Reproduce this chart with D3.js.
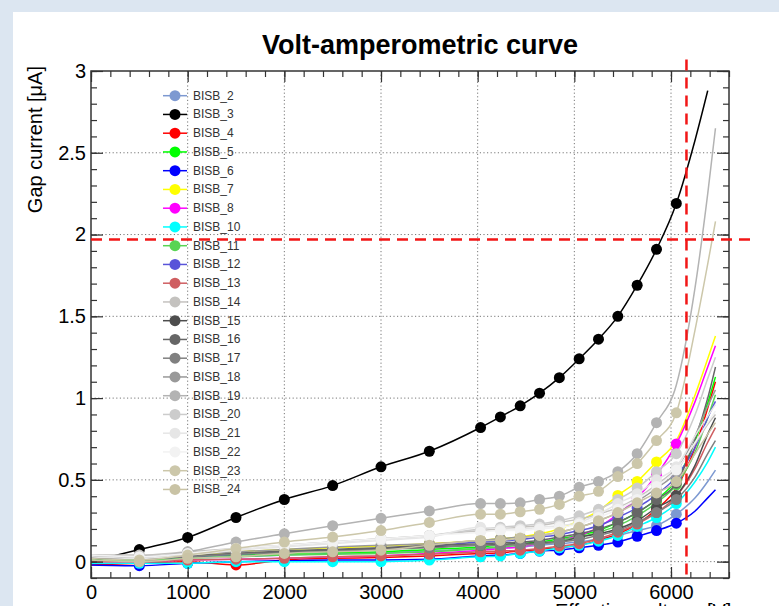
<!DOCTYPE html>
<html><head><meta charset="utf-8">
<script src="https://cdn.jsdelivr.net/npm/d3@7"></script>
<style>body{margin:0;background:#dce6f1;} svg{display:block;}</style>
</head><body><svg id="c" width="779" height="606"></svg>
<script>
// ---- data ----
const voltages = [0,500,1000,1500,2000,2500,3000,3500,4030,4235,4440,4640,4845,5050,5250,5450,5650,5850,6055,6250,6380,6460];
const seriesNames = ["BISB_2","BISB_3","BISB_4","BISB_5","BISB_6","BISB_7","BISB_8","BISB_10","BISB_11","BISB_12","BISB_13","BISB_14","BISB_15","BISB_16","BISB_17","BISB_18","BISB_19","BISB_20","BISB_21","BISB_22","BISB_23","BISB_24"];
const bisb2  = [0.02,0.01,0.02,0.03,0.04,0.05,0.055,0.065,0.08,0.085,0.09,0.1,0.11,0.12,0.14,0.16,0.19,0.22,0.29,0.39,0.49,0.56];
const bisb3  = [0.0,0.074,0.148,0.27,0.38,0.465,0.58,0.675,0.82,0.885,0.953,1.03,1.125,1.24,1.36,1.50,1.69,1.91,2.19,2.58,2.88,null];
const bisb4  = [-0.02,-0.01,0.0,-0.02,0.01,0.02,0.025,0.035,0.05,0.055,0.065,0.075,0.085,0.1,0.13,0.17,0.23,0.32,0.45,0.7,0.94,1.10];
const bisb5  = [0.02,0.02,0.03,0.04,0.05,0.055,0.06,0.075,0.09,0.1,0.11,0.12,0.14,0.16,0.19,0.24,0.3,0.38,0.5,0.74,0.97,1.13];
const bisb6  = [-0.02,-0.025,-0.01,0.0,0.005,0.01,0.01,0.015,0.035,0.04,0.05,0.065,0.07,0.085,0.1,0.12,0.155,0.19,0.235,0.31,0.39,0.44];
const bisb7  = [0.025,0.02,0.04,0.06,0.075,0.085,0.095,0.11,0.13,0.14,0.15,0.17,0.2,0.25,0.31,0.405,0.49,0.61,0.74,1.02,1.24,1.38];
const bisb8  = [0.0,0.0,0.01,0.015,0.02,0.03,0.035,0.05,0.07,0.08,0.09,0.11,0.13,0.16,0.21,0.29,0.39,0.53,0.72,0.98,1.19,1.32];
const bisb10 = [-0.01,-0.01,-0.01,0.0,0.0,0.0,0.0,0.01,0.03,0.035,0.05,0.065,0.085,0.1,0.125,0.16,0.215,0.27,0.355,0.49,0.61,0.70];
const bisb11 = [0.01,0.01,0.02,0.03,0.04,0.045,0.05,0.06,0.08,0.09,0.1,0.11,0.13,0.15,0.18,0.22,0.28,0.36,0.47,0.67,0.88,1.02];
const bisb12 = [0.02,0.02,0.03,0.045,0.06,0.07,0.08,0.095,0.12,0.125,0.135,0.15,0.165,0.19,0.22,0.27,0.33,0.41,0.52,0.7,0.88,0.98];
const bisb13 = [0.0,0.0,0.01,0.015,0.02,0.03,0.035,0.045,0.06,0.065,0.07,0.08,0.095,0.11,0.14,0.18,0.23,0.3,0.4,0.57,0.73,0.82];
const bisb14 = [0.04,0.04,0.06,0.08,0.1,0.12,0.14,0.16,0.19,0.2,0.21,0.22,0.24,0.26,0.29,0.33,0.39,0.47,0.57,0.72,0.84,0.90];
const bisb15 = [0.02,0.02,0.03,0.05,0.06,0.07,0.08,0.09,0.1,0.105,0.11,0.115,0.12,0.15,0.17,0.2,0.25,0.33,0.405,0.59,0.78,0.88];
const bisb16 = [0.02,0.02,0.035,0.05,0.065,0.075,0.085,0.1,0.11,0.115,0.12,0.13,0.15,0.17,0.2,0.24,0.3,0.38,0.48,0.75,1.0,1.19];
const bisb17 = [0.02,0.02,0.03,0.045,0.055,0.065,0.075,0.085,0.1,0.1,0.105,0.11,0.12,0.135,0.16,0.19,0.24,0.3,0.38,0.52,0.66,0.74];
const bisb18 = [0.03,0.03,0.045,0.06,0.075,0.09,0.1,0.11,0.13,0.14,0.15,0.16,0.18,0.21,0.25,0.3,0.37,0.45,0.55,0.77,0.95,1.05];
const bisb19 = [0.04,0.025,0.06,0.12,0.17,0.22,0.265,0.31,0.355,0.355,0.36,0.38,0.40,0.455,0.49,0.55,0.66,0.85,1.08,1.68,2.25,2.65];
const bisb20 = [0.04,0.03,0.05,0.08,0.1,0.12,0.14,0.16,0.2,0.21,0.22,0.23,0.25,0.28,0.32,0.38,0.45,0.55,0.66,0.9,1.12,1.25];
const bisb21 = [0.03,0.02,0.04,0.07,0.09,0.11,0.13,0.15,0.21,0.2,0.2,0.21,0.22,0.24,0.29,0.355,0.415,0.5,0.58,0.77,0.89,0.96];
const bisb22 = [0.04,0.03,0.05,0.08,0.1,0.12,0.14,0.16,0.18,0.19,0.19,0.2,0.21,0.23,0.27,0.32,0.38,0.46,0.56,0.73,0.85,0.92];
const bisb23 = [0.02,0.01,0.04,0.08,0.12,0.15,0.19,0.24,0.29,0.29,0.305,0.32,0.35,0.40,0.43,0.52,0.60,0.74,0.91,1.42,1.82,2.08];
const bisb24 = [0.01,0.0,0.02,0.03,0.05,0.06,0.07,0.1,0.13,0.13,0.145,0.16,0.18,0.21,0.25,0.3,0.36,0.42,0.49,0.66,0.78,0.85];
const seriesValues = [bisb2,bisb3,bisb4,bisb5,bisb6,bisb7,bisb8,bisb10,bisb11,bisb12,bisb13,bisb14,bisb15,bisb16,bisb17,bisb18,bisb19,bisb20,bisb21,bisb22,bisb23,bisb24];
const firstMarkerVoltage = 500;
const lastMarkerVoltage = [6055,6055,5850,6055,6055,5850,6055,6055,6055,6055,6055,6055,6055,6055,6055,6055,5850,6055,6055,6055,6055,6055];
const thresholdVoltage = 6160;
const thresholdCurrent = 1.97;
const xMajorTicks = [0,1000,2000,3000,4000,5000,6000];
const yMajorTicks = [0,0.5,1,1.5,2,2.5,3];

// ---- styles ----
const seriesColors = ["#7d99d1","#000000","#ff0000","#00ff00","#0000ff","#ffff00","#ff00ff","#00ffff","#59d454","#5954d9","#cf5e61","#c4c2bf","#4d4d4d","#666666","#808080","#999999","#b3b3b3","#cccccc","#e6e6e6","#f2f2f2","#ccc7aa","#c9c3a5"];

const svg = d3.select("#c");
svg.append("rect").attr("x",13).attr("y",12).attr("width",779).attr("height",606).attr("fill","#ffffff");

const L=91, R=729, T=71, B=578;
const x = d3.scaleLinear().domain([0,6600]).range([L,R]);
const y = d3.scaleLinear().domain([-0.1,3]).range([B,T]);
const font = "'Liberation Sans', Arial, Helvetica, sans-serif";

// grid
const grid = svg.append("g").attr("stroke","#777").attr("stroke-width",1).attr("stroke-dasharray","1.2,2.4");
xMajorTicks.filter(v=>v>0).forEach(v=>grid.append("line").attr("x1",x(v)).attr("x2",x(v)).attr("y1",T).attr("y2",B));
yMajorTicks.filter(v=>v<3).forEach(v=>grid.append("line").attr("x1",L).attr("x2",R).attr("y1",y(v)).attr("y2",y(v)));

// clip
svg.append("clipPath").attr("id","clip").append("rect").attr("x",L).attr("y",T).attr("width",R-L).attr("height",B-T);
const plot = svg.append("g").attr("clip-path","url(#clip)");
const line = d3.line().defined(d=>d[1]!=null).x(d=>x(d[0])).y(d=>y(d[1])).curve(d3.curveMonotoneX);

seriesValues.forEach((vals,i)=>{
  const pts = voltages.map((v,j)=>[v,vals[j]]);
  const g = plot.append("g");
  g.append("path").datum(pts).attr("d",line).attr("fill","none").attr("stroke",seriesColors[i]).attr("stroke-width",1.5);
  g.selectAll("circle").data(pts.filter(p=>p[1]!=null && p[0]>=firstMarkerVoltage && p[0]<=lastMarkerVoltage[i]))
    .join("circle").attr("cx",d=>x(d[0])).attr("cy",d=>y(d[1])).attr("r",5.5).attr("fill",seriesColors[i]);
});

// axes (ROOT style: ticks inside)
const xMinor = d3.range(0,6601,200);
const yMinor = d3.range(-0.1,3.001,0.1).map(v=>+v.toFixed(2));
function styleAxis(g){ g.select(".domain").remove(); g.selectAll("line").attr("stroke","#333").attr("stroke-width",1.2); }
svg.append("g").attr("transform",`translate(0,${B})`).call(d3.axisBottom(x).tickValues(xMinor).tickSize(-6).tickFormat("")).call(styleAxis);
svg.append("g").attr("transform",`translate(0,${B})`).call(d3.axisBottom(x).tickValues(xMajorTicks).tickSize(-11).tickPadding(7).tickFormat(d3.format("d"))).call(styleAxis)
  .selectAll("text").attr("font-family",font).attr("font-size",20).attr("fill","#000");
svg.append("g").attr("transform",`translate(0,${T})`).call(d3.axisTop(x).tickValues(xMinor).tickSize(-6).tickFormat("")).call(styleAxis);
svg.append("g").attr("transform",`translate(0,${T})`).call(d3.axisTop(x).tickValues(xMajorTicks).tickSize(-11).tickFormat("")).call(styleAxis);
svg.append("g").attr("transform",`translate(${L},0)`).call(d3.axisLeft(y).tickValues(yMinor).tickSize(-6).tickFormat("")).call(styleAxis);
svg.append("g").attr("transform",`translate(${L},0)`).call(d3.axisLeft(y).tickValues(yMajorTicks).tickSize(-12).tickPadding(5).tickFormat(d3.format("~g"))).call(styleAxis)
  .selectAll("text").attr("font-family",font).attr("font-size",20).attr("fill","#000");
svg.append("g").attr("transform",`translate(${R},0)`).call(d3.axisRight(y).tickValues(yMinor).tickSize(-6).tickFormat("")).call(styleAxis);
svg.append("g").attr("transform",`translate(${R},0)`).call(d3.axisRight(y).tickValues(yMajorTicks).tickSize(-12).tickFormat("")).call(styleAxis);
svg.append("rect").attr("x",L).attr("y",T).attr("width",R-L).attr("height",B-T).attr("fill","none").attr("stroke","#333").attr("stroke-width",1.5);

// threshold lines
const red = svg.append("g").attr("stroke","#f21616").attr("stroke-width",2.5).attr("stroke-dasharray","11,7").attr("fill","none");
red.append("line").attr("x1",x(thresholdVoltage)).attr("x2",x(thresholdVoltage)).attr("y1",y(3.07)).attr("y2",y(-0.1));
red.append("line").attr("x1",x(0)).attr("x2",x(6870)).attr("y1",y(thresholdCurrent)).attr("y2",y(thresholdCurrent));

// legend
const lg = svg.append("g");
seriesNames.forEach((n,i)=>{
  const yy = 95.7 + i*18.75;
  lg.append("line").attr("x1",163).attr("x2",187).attr("y1",yy).attr("y2",yy).attr("stroke",seriesColors[i]).attr("stroke-width",1.5);
  lg.append("circle").attr("cx",175).attr("cy",yy).attr("r",5.5).attr("fill",seriesColors[i]);
  lg.append("text").attr("x",193).attr("y",yy+4).attr("font-family",font).attr("font-size",12).attr("fill","#333").text(n);
});

// titles
svg.append("text").attr("x",420).attr("y",54).attr("text-anchor","middle").attr("font-family",font).attr("font-weight","bold").attr("font-size",27).text("Volt-amperometric curve");
svg.append("text").attr("transform","translate(42,66) rotate(-90)").attr("text-anchor","end").attr("font-family",font).attr("font-size",20).text("Gap current [\u03bcA]");
svg.append("text").attr("x",555).attr("y",606+12).attr("text-anchor","start").attr("font-family",font).attr("font-size",20).text("Effective voltage [V]");
</script></body></html>
